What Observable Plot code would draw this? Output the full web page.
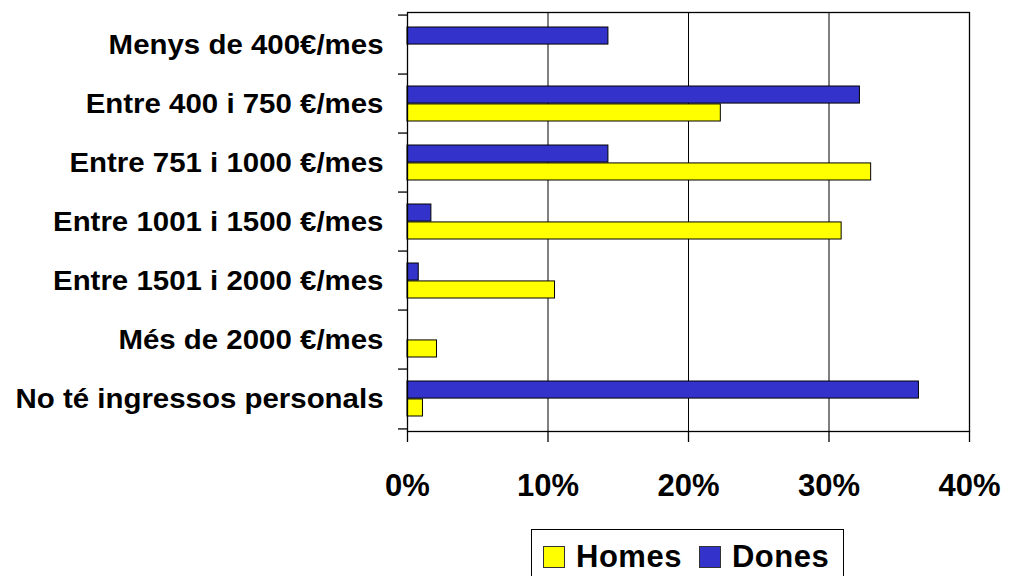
<!DOCTYPE html>
<html>
<head>
<meta charset="utf-8">
<script src="https://cdn.jsdelivr.net/npm/d3@7"></script>
<script src="https://cdn.jsdelivr.net/npm/@observablehq/plot@0.6"></script>
<style>
  body { margin: 0; background: #fff; font-family: "Liberation Sans", Arial, sans-serif; }
  #wrap { position: relative; width: 1010px; height: 576px; overflow: hidden; background: #fff; }
  #legend { position: absolute; left: 531px; top: 529px; width: 313px; height: 80px; border: 1px solid #000;
            box-sizing: border-box; display: flex; padding-left: 11px;
            align-items: flex-start; padding-top: 12px; background: #fff; }
  .item { display: flex; align-items: center; height: 30px; }
  .sw { width: 20px; height: 20px; border: 1px solid #333; margin-right: 11px; }
  .lbl { font-size: 31px; line-height: 30px; font-weight: bold; letter-spacing: 0.5px; color: #000; }
  .item + .item { margin-left: 17px; }
</style>
</head>
<body>
<div id="wrap">
  <div id="chart"></div>
  <div id="legend"></div>
</div>
<script>
const categories = [
  "Menys de 400€/mes",
  "Entre 400 i 750 €/mes",
  "Entre 751 i 1000 €/mes",
  "Entre 1001 i 1500 €/mes",
  "Entre 1501 i 2000 €/mes",
  "Més de 2000 €/mes",
  "No té ingressos personals"
];
const series = ["Homes", "Dones"];
const homes = [0, 22.3, 33.0, 30.9, 10.5, 2.1, 1.1];
const dones = [14.3, 32.2, 14.3, 1.7, 0.8, 0, 36.4];
const colors = ["#FFFF00", "#3333CC"];
const xTicks = [0, 10, 20, 30, 40];

const W = 1010, H = 520, mt = 12, mb = 89, ml = 407, mr = 41;
const band = (H - mt - mb) / categories.length;
const gap = 12;

const rowsH = categories.map((c, i) => ({cat: c, value: homes[i]})).filter(d => d.value > 0);
const rowsD = categories.map((c, i) => ({cat: c, value: dones[i]})).filter(d => d.value > 0);

const font = {fontFamily: "'Liberation Sans', Arial, sans-serif", fontWeight: "bold"};

const chart = Plot.plot({
  width: W, height: H,
  marginTop: mt, marginBottom: mb, marginLeft: ml, marginRight: mr,
  style: {background: "#fff", overflow: "visible", color: "#000"},
  x: {domain: [0, 40], label: null},
  y: {domain: categories, padding: 0, label: null},
  marks: [
    Plot.gridX(xTicks.slice(1), {stroke: "#000", strokeOpacity: 1, strokeWidth: 1}),
    Plot.barX(rowsD, {y: "cat", x1: 0, x2: "value", fill: colors[1], stroke: "#000", strokeWidth: 1,
      insetTop: gap, insetBottom: band / 2}),
    Plot.barX(rowsH, {y: "cat", x1: 0, x2: "value", fill: colors[0], stroke: "#000", strokeWidth: 1,
      insetTop: band / 2, insetBottom: gap}),
    Plot.frame({stroke: "#000", strokeWidth: 1.3}),
    Plot.ruleY(categories, {y: d => d, x1: 0, x2: 0, insetLeft: -9, dy: -band / 2, stroke: "#000", strokeWidth: 1.3}),
    Plot.ruleY(categories.slice(-1), {y: d => d, x1: 0, x2: 0, insetLeft: -9, dy: band / 2, stroke: "#000", strokeWidth: 1.3}),
    Plot.axisX({ticks: xTicks, tickSize: 11, tickPadding: 31, tickFormat: d => d + "%",
      fontSize: 31, ...font, stroke: "#000", strokeWidth: 1.3, label: null}),
    Plot.axisY({tickSize: 0, tickPadding: 24, fontSize: 27, ...font, label: null})
  ]
});
document.getElementById("chart").append(chart);

// Reference text is slightly wider than Arial: stretch category labels
chart.querySelectorAll("g[aria-label='y-axis tick label'] text").forEach(t => {
  const w = t.getComputedTextLength();
  t.setAttribute("textLength", (w * 1.09).toFixed(1));
  t.setAttribute("lengthAdjust", "spacingAndGlyphs");
});

// Legend
const legend = document.getElementById("legend");
series.forEach((s, i) => {
  const item = document.createElement("div");
  item.className = "item";
  const sw = document.createElement("div");
  sw.className = "sw";
  sw.style.background = colors[i];
  const lbl = document.createElement("span");
  lbl.className = "lbl";
  lbl.textContent = s;
  item.append(sw, lbl);
  legend.append(item);
});
</script>
</body>
</html>
